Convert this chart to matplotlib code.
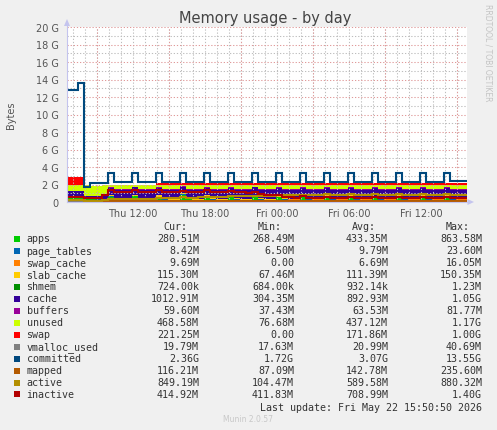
import numpy as np
import pandas as pd
import matplotlib
matplotlib.use("Agg")
import matplotlib.pyplot as plt
import matplotlib.dates as mdates
from matplotlib.patches import Rectangle, Polygon
from matplotlib.ticker import MultipleLocator, FuncFormatter

# ---------------- data (values in GiB, 30-minute samples) ----------------
times = pd.date_range("2026-05-21 06:10", periods=69, freq="30min").to_pydatetime()

apps = [
    0.50, 0.52, 0.50, 0.48,
    0.31, 0.29, 0.28, 0.30,
    0.62, 0.29, 0.27, 0.27,
    0.64, 0.28, 0.27, 0.27,
    0.60, 0.28, 0.27, 0.27,
    0.84, 0.29, 0.27, 0.27,
    0.62, 0.28, 0.27, 0.27,
    0.60, 0.28, 0.27, 0.27,
    0.63, 0.28, 0.27, 0.27,
    0.60, 0.28, 0.27, 0.27,
    0.62, 0.28, 0.27, 0.27,
    0.58, 0.28, 0.27, 0.27,
    0.61, 0.28, 0.27, 0.27,
    0.57, 0.28, 0.27, 0.27,
    0.60, 0.28, 0.27, 0.27,
    0.59, 0.28, 0.27, 0.27,
    0.58, 0.28, 0.27, 0.274, 0.274,
]
page_tables = [
    0.012, 0.013, 0.012, 0.012,
    0.007, 0.0064, 0.0064, 0.007,
    0.015, 0.008, 0.008, 0.008,
    0.015, 0.008, 0.008, 0.008,
    0.015, 0.008, 0.008, 0.008,
    0.023, 0.009, 0.008, 0.008,
    0.015, 0.008, 0.008, 0.008,
    0.015, 0.008, 0.008, 0.008,
    0.015, 0.008, 0.008, 0.008,
    0.015, 0.008, 0.008, 0.008,
    0.015, 0.008, 0.008, 0.008,
    0.015, 0.008, 0.008, 0.008,
    0.015, 0.008, 0.008, 0.008,
    0.015, 0.008, 0.008, 0.008,
    0.015, 0.008, 0.008, 0.008,
    0.015, 0.008, 0.008, 0.008,
    0.015, 0.0085, 0.0082, 0.0082, 0.0082,
]
swap_cache = [
    0.015, 0.016, 0.015, 0.014,
    0.0, 0.0, 0.0, 0.001,
    0.004, 0.004, 0.004, 0.004,
    0.005, 0.005, 0.005, 0.005,
    0.006, 0.006, 0.006, 0.006,
    0.006, 0.006, 0.006, 0.006,
    0.007, 0.007, 0.007, 0.007,
    0.007, 0.007, 0.007, 0.007,
    0.007, 0.007, 0.007, 0.007,
    0.008, 0.008, 0.008, 0.008,
    0.008, 0.008, 0.008, 0.008,
    0.008, 0.008, 0.008, 0.008,
    0.009, 0.009, 0.009, 0.009,
    0.009, 0.009, 0.009, 0.009,
    0.009, 0.009, 0.009, 0.009,
    0.0095, 0.0095, 0.0095, 0.0095,
    0.0095, 0.0095, 0.0095, 0.0095, 0.0095,
]
slab_cache = [
    0.080, 0.082, 0.081, 0.080,
    0.066, 0.067, 0.068, 0.075,
    0.145, 0.112, 0.110, 0.110,
    0.145, 0.112, 0.110, 0.110,
    0.145, 0.112, 0.110, 0.110,
    0.146, 0.112, 0.110, 0.110,
    0.145, 0.112, 0.110, 0.110,
    0.145, 0.112, 0.110, 0.110,
    0.145, 0.112, 0.110, 0.110,
    0.145, 0.112, 0.110, 0.110,
    0.145, 0.112, 0.110, 0.110,
    0.145, 0.112, 0.110, 0.110,
    0.145, 0.112, 0.110, 0.110,
    0.145, 0.112, 0.110, 0.110,
    0.145, 0.112, 0.110, 0.110,
    0.145, 0.112, 0.110, 0.110,
    0.146, 0.114, 0.113, 0.1126, 0.1126,
]
shmem = [
    0.0012, 0.0012, 0.0012, 0.0011,
    0.0007, 0.0007, 0.0007, 0.0008,
    0.0009, 0.0009, 0.0009, 0.0009,
    0.0009, 0.0009, 0.0009, 0.0009,
    0.0009, 0.0009, 0.0009, 0.0009,
    0.0009, 0.0009, 0.0009, 0.0009,
    0.0009, 0.0009, 0.0009, 0.0009,
    0.0009, 0.0009, 0.0009, 0.0009,
    0.0009, 0.0009, 0.0009, 0.0009,
    0.0009, 0.0009, 0.0009, 0.0009,
    0.0009, 0.0009, 0.0009, 0.0009,
    0.0009, 0.0009, 0.0009, 0.0009,
    0.0009, 0.0009, 0.0009, 0.0009,
    0.0009, 0.0009, 0.0009, 0.0009,
    0.0009, 0.0009, 0.0009, 0.0009,
    0.0009, 0.0009, 0.0009, 0.0009,
    0.0009, 0.0008, 0.0007, 0.0007, 0.0007,
]
cache = [
    0.62, 0.62, 0.63, 0.63,
    0.30, 0.30, 0.31, 0.50,
    0.84, 0.96, 0.99, 1.00,
    0.86, 1.00, 1.01, 1.02,
    0.86, 1.00, 1.01, 1.02,
    0.72, 0.99, 1.01, 1.02,
    0.86, 1.00, 1.01, 1.02,
    0.86, 1.00, 1.01, 1.02,
    0.86, 1.01, 1.02, 1.03,
    0.86, 1.00, 1.01, 1.02,
    0.86, 1.00, 1.01, 1.02,
    0.86, 1.00, 1.01, 1.02,
    0.86, 1.00, 1.01, 1.02,
    0.86, 1.00, 1.01, 1.02,
    0.86, 1.00, 1.01, 1.02,
    0.86, 0.99, 1.00, 1.00,
    0.86, 0.98, 0.99, 0.989, 0.989,
]
buffers = [
    0.050, 0.050, 0.050, 0.050,
    0.037, 0.040, 0.045, 0.050,
    0.075, 0.059, 0.058, 0.058,
    0.075, 0.059, 0.058, 0.058,
    0.075, 0.059, 0.058, 0.058,
    0.080, 0.059, 0.058, 0.058,
    0.075, 0.059, 0.058, 0.058,
    0.075, 0.059, 0.058, 0.058,
    0.075, 0.059, 0.058, 0.058,
    0.075, 0.059, 0.058, 0.058,
    0.075, 0.059, 0.058, 0.058,
    0.075, 0.059, 0.058, 0.058,
    0.075, 0.059, 0.058, 0.058,
    0.075, 0.059, 0.058, 0.058,
    0.075, 0.059, 0.058, 0.058,
    0.075, 0.059, 0.058, 0.058,
    0.075, 0.059, 0.058, 0.0582, 0.0582,
]
unused = [
    0.62, 0.60, 0.61, 0.63,
    1.17, 1.17, 1.16, 0.96,
    0.26, 0.53, 0.51, 0.50,
    0.22, 0.49, 0.49, 0.48,
    0.25, 0.49, 0.49, 0.48,
    0.15, 0.48, 0.49, 0.48,
    0.24, 0.49, 0.49, 0.48,
    0.24, 0.49, 0.49, 0.48,
    0.24, 0.48, 0.48, 0.47,
    0.24, 0.49, 0.49, 0.48,
    0.24, 0.49, 0.49, 0.48,
    0.24, 0.49, 0.49, 0.48,
    0.24, 0.49, 0.49, 0.48,
    0.24, 0.49, 0.49, 0.48,
    0.24, 0.49, 0.49, 0.48,
    0.24, 0.50, 0.49, 0.49,
    0.26, 0.50, 0.49, 0.4576, 0.4576,
]
swap = [
    1.00, 1.00, 1.00, 0.98,
    0.0, 0.0, 0.0, 0.0,
    0.0, 0.0, 0.0, 0.0,
    0.0, 0.0, 0.0, 0.0,
    0.19, 0.20, 0.21, 0.21,
    0.216, 0.216, 0.216, 0.216,
    0.216, 0.216, 0.216, 0.216,
    0.216, 0.216, 0.216, 0.216,
    0.216, 0.216, 0.216, 0.216,
    0.216, 0.216, 0.216, 0.216,
    0.216, 0.216, 0.216, 0.216,
    0.216, 0.216, 0.216, 0.216,
    0.216, 0.216, 0.216, 0.216,
    0.216, 0.216, 0.216, 0.216,
    0.216, 0.216, 0.216, 0.216,
    0.216, 0.216, 0.216, 0.216,
    0.216, 0.216, 0.216, 0.216, 0.216,
]
vmalloc_used = [
    0.022, 0.022, 0.021, 0.021,
    0.018, 0.0175, 0.0175, 0.018,
    0.024, 0.019, 0.019, 0.019,
    0.024, 0.019, 0.019, 0.019,
    0.024, 0.019, 0.019, 0.019,
    0.040, 0.020, 0.019, 0.019,
    0.024, 0.019, 0.019, 0.019,
    0.024, 0.019, 0.019, 0.019,
    0.024, 0.019, 0.019, 0.019,
    0.024, 0.019, 0.019, 0.019,
    0.024, 0.019, 0.019, 0.019,
    0.024, 0.019, 0.019, 0.019,
    0.024, 0.019, 0.019, 0.019,
    0.024, 0.019, 0.019, 0.019,
    0.024, 0.019, 0.019, 0.019,
    0.024, 0.019, 0.019, 0.019,
    0.024, 0.0195, 0.0193, 0.0193, 0.0193,
]
committed = [
    12.78, 12.80, 12.80, 13.55,
    1.72, 2.12, 2.13, 2.15,
    3.28, 2.30, 2.29, 2.30,
    3.30, 2.30, 2.29, 2.30,
    3.28, 2.30, 2.29, 2.30,
    3.31, 2.31, 2.30, 2.30,
    3.27, 2.30, 2.29, 2.30,
    3.28, 2.30, 2.29, 2.30,
    3.30, 2.31, 2.30, 2.30,
    3.28, 2.30, 2.29, 2.30,
    3.29, 2.30, 2.30, 2.31,
    3.28, 2.31, 2.30, 2.31,
    3.30, 2.31, 2.31, 2.32,
    3.28, 2.32, 2.31, 2.32,
    3.29, 2.32, 2.32, 2.33,
    3.30, 2.33, 2.33, 2.34,
    3.30, 2.35, 2.36, 2.36, 2.36,
]
mapped = [
    0.23, 0.23, 0.22, 0.22,
    0.09, 0.085, 0.09, 0.10,
    0.16, 0.12, 0.115, 0.115,
    0.16, 0.12, 0.115, 0.115,
    0.16, 0.12, 0.115, 0.115,
    0.17, 0.12, 0.115, 0.115,
    0.16, 0.12, 0.115, 0.115,
    0.16, 0.12, 0.115, 0.115,
    0.16, 0.12, 0.115, 0.115,
    0.16, 0.12, 0.115, 0.115,
    0.16, 0.12, 0.115, 0.115,
    0.16, 0.12, 0.115, 0.115,
    0.16, 0.12, 0.115, 0.115,
    0.16, 0.12, 0.115, 0.115,
    0.16, 0.12, 0.115, 0.115,
    0.16, 0.12, 0.115, 0.115,
    0.16, 0.12, 0.115, 0.1135, 0.1135,
]
active = [
    0.26, 0.26, 0.27, 0.27,
    0.102, 0.11, 0.12, 0.20,
    0.34, 0.33, 0.33, 0.34,
    0.38, 0.36, 0.36, 0.37,
    0.45, 0.44, 0.45, 0.46,
    0.52, 0.50, 0.51, 0.52,
    0.58, 0.56, 0.57, 0.58,
    0.66, 0.64, 0.65, 0.66,
    0.72, 0.70, 0.71, 0.72,
    0.78, 0.76, 0.77, 0.78,
    0.82, 0.80, 0.80, 0.81,
    0.86, 0.83, 0.83, 0.83,
    0.86, 0.83, 0.83, 0.83,
    0.86, 0.83, 0.83, 0.83,
    0.86, 0.83, 0.83, 0.83,
    0.86, 0.83, 0.83, 0.83,
    0.86, 0.83, 0.83, 0.829, 0.829,
]
inactive = [
    0.60, 0.60, 0.59, 0.58,
    0.42, 0.41, 0.45, 0.80,
    1.37, 1.18, 1.15, 1.15,
    1.38, 1.16, 1.15, 1.14,
    1.36, 1.15, 1.14, 1.14,
    1.30, 1.14, 1.13, 1.13,
    1.34, 1.12, 1.11, 1.10,
    1.30, 1.10, 1.09, 1.08,
    1.20, 0.95, 0.85, 0.75,
    0.85, 0.62, 0.55, 0.50,
    0.65, 0.46, 0.44, 0.43,
    0.62, 0.44, 0.43, 0.43,
    0.62, 0.44, 0.43, 0.43,
    0.62, 0.44, 0.43, 0.43,
    0.62, 0.44, 0.43, 0.43,
    0.62, 0.44, 0.43, 0.43,
    0.62, 0.43, 0.42, 0.405, 0.405,
]

names = ["apps", "page_tables", "swap_cache", "slab_cache", "shmem", "cache",
         "buffers", "unused", "swap", "vmalloc_used", "committed", "mapped",
         "active", "inactive"]
colors = ["#00CC00", "#0066B3", "#FF8000", "#FFCC00", "#008F00", "#330099",
          "#990099", "#CCFF00", "#FF0000", "#808080", "#00487D", "#B35A00",
          "#B38F00", "#B30000"]
cur_txt = ["280.51M", "8.42M", "9.69M", "115.30M", "724.00k", "1012.91M", "59.60M",
           "468.58M", "221.25M", "19.79M", "2.36G", "116.21M", "849.19M", "414.92M"]
min_txt = ["268.49M", "6.50M", "0.00", "67.46M", "684.00k", "304.35M", "37.43M",
           "76.68M", "0.00", "17.63M", "1.72G", "87.09M", "104.47M", "411.83M"]
avg_txt = ["433.35M", "9.79M", "6.69M", "111.39M", "932.14k", "892.93M", "63.53M",
           "437.12M", "171.86M", "20.99M", "3.07G", "142.78M", "589.58M", "708.99M"]
max_txt = ["863.58M", "23.60M", "16.05M", "150.35M", "1.23M", "1.05G", "81.77M",
           "1.17G", "1.00G", "40.69M", "13.55G", "235.60M", "880.32M", "1.40G"]

area_series = [apps, page_tables, swap_cache, slab_cache, shmem, cache, buffers, unused, swap]
line_series = [vmalloc_used, committed, mapped, active, inactive]

# ---------------- figure ----------------
W, H = 497, 431
fig = plt.figure(figsize=(W / 100, H / 100), dpi=100, facecolor="#F0F0F0")
ax = fig.add_axes([67 / W, 1 - 203 / H, 400 / W, 175 / H])
ax.set_facecolor("white")

start = pd.Timestamp("2026-05-21 06:30").to_pydatetime()
end = pd.Timestamp("2026-05-22 15:50").to_pydatetime()
ax.set_xlim(start, end)
ax.set_ylim(0, 20)

arr = np.array(area_series)
tops = np.cumsum(arr, axis=0)
bottoms = tops - arr
for i in range(len(area_series)):
    ax.fill_between(times, bottoms[i], tops[i], step="mid", facecolor=colors[i],
                    edgecolor="none", linewidth=0, antialiased=False, zorder=2)

for j, vals in enumerate(line_series):
    ax.plot(times, vals, drawstyle="steps-mid", color=colors[9 + j], lw=1.5,
            zorder=3, solid_joinstyle="miter")

# grid
ax.set_axisbelow(False)
ax.yaxis.set_major_locator(MultipleLocator(2))
ax.yaxis.set_minor_locator(MultipleLocator(1))
ax.yaxis.set_major_formatter(FuncFormatter(lambda v, p: "0" if v == 0 else f"{int(v)} G"))
ax.xaxis.set_major_locator(mdates.HourLocator(byhour=[0, 6, 12, 18]))
ax.xaxis.set_major_formatter(mdates.DateFormatter("%a %H:%M"))
ax.xaxis.set_minor_locator(mdates.HourLocator(interval=1))

dot = (0, (1.2, 1.8))
gcol = "#BDBDBD"
rcol = "#E09A9A"
ax.grid(which="major", axis="y", color=rcol, linestyle=dot, lw=0.75)
ax.grid(which="minor", axis="y", color=gcol, linestyle=dot, lw=0.75)
ax.grid(which="major", axis="x", color=gcol, linestyle=dot, lw=0.75)
ax.grid(which="minor", axis="x", color=gcol, linestyle=dot, lw=0.75)
for xv in mdates.HourLocator(byhour=[3, 9, 15, 21]).tick_values(start, end):
    if mdates.date2num(start) < xv < mdates.date2num(end):
        ax.axvline(xv, color=rcol, linestyle=dot, lw=0.75, zorder=2.6)

ax.tick_params(which="both", length=0)
ax.tick_params(axis="y", pad=6, labelsize=7, labelcolor="#555555")
ax.tick_params(axis="x", pad=4, labelsize=7, labelcolor="#555555")
for s in ax.spines.values():
    s.set_visible(False)

# ---------------- overlay in pixel coordinates ----------------
ov = fig.add_axes([0, 0, 1, 1])
ov.set_xlim(0, W)
ov.set_ylim(H, 0)
ov.axis("off")

axis_col = "#C4C4EE"
ov.plot([67, 67], [203, 24], color=axis_col, lw=0.8)
ov.plot([67, 469], [203, 203], color=axis_col, lw=0.8)
ov.add_patch(Polygon([[67, 20], [64, 27], [70, 27]], closed=True, facecolor=axis_col, edgecolor="none"))
ov.add_patch(Polygon([[474, 203], [467.5, 200], [467.5, 206]], closed=True, facecolor=axis_col, edgecolor="none"))

ov.text(265, 19, "Memory usage - by day", ha="center", va="center", fontsize=10.5, color="#444444")
ov.text(11, 115, "Bytes", rotation=90, ha="center", va="center", fontsize=7, color="#555555")
ov.text(488, 53, "RRDTOOL / TOBI OETIKER", rotation=270, ha="center", va="center",
        fontsize=5.5, color="#C4C4C4")

mono = "DejaVu Sans Mono"
fs = 7.2
tcol = "#333333"
for lbl, xr in zip(["Cur:", "Min:", "Avg:", "Max:"], [187, 282, 376, 470]):
    ov.text(xr, 227.5, lbl, ha="right", va="center", family=mono, fontsize=fs, color=tcol)
for i, name in enumerate(names):
    y = 239.5 + 12 * i
    ov.add_patch(Rectangle((14, y - 3), 6, 6, facecolor=colors[i], edgecolor="none"))
    ov.text(26.5, y, name, ha="left", va="center", family=mono, fontsize=fs, color=tcol)
    for vals, xr in zip([cur_txt, min_txt, avg_txt, max_txt], [199, 294, 388, 482]):
        ov.text(xr, y, vals[i], ha="right", va="center", family=mono, fontsize=fs, color=tcol)
ov.text(482, 407.7, "Last update: Fri May 22 15:50:50 2026", ha="right", va="center",
        family=mono, fontsize=fs, color=tcol)
ov.text(248, 420, "Munin 2.0.57", ha="center", va="center", fontsize=5.5, color="#C8C8C8")

fig.savefig("out.png", dpi=100, facecolor=fig.get_facecolor())
